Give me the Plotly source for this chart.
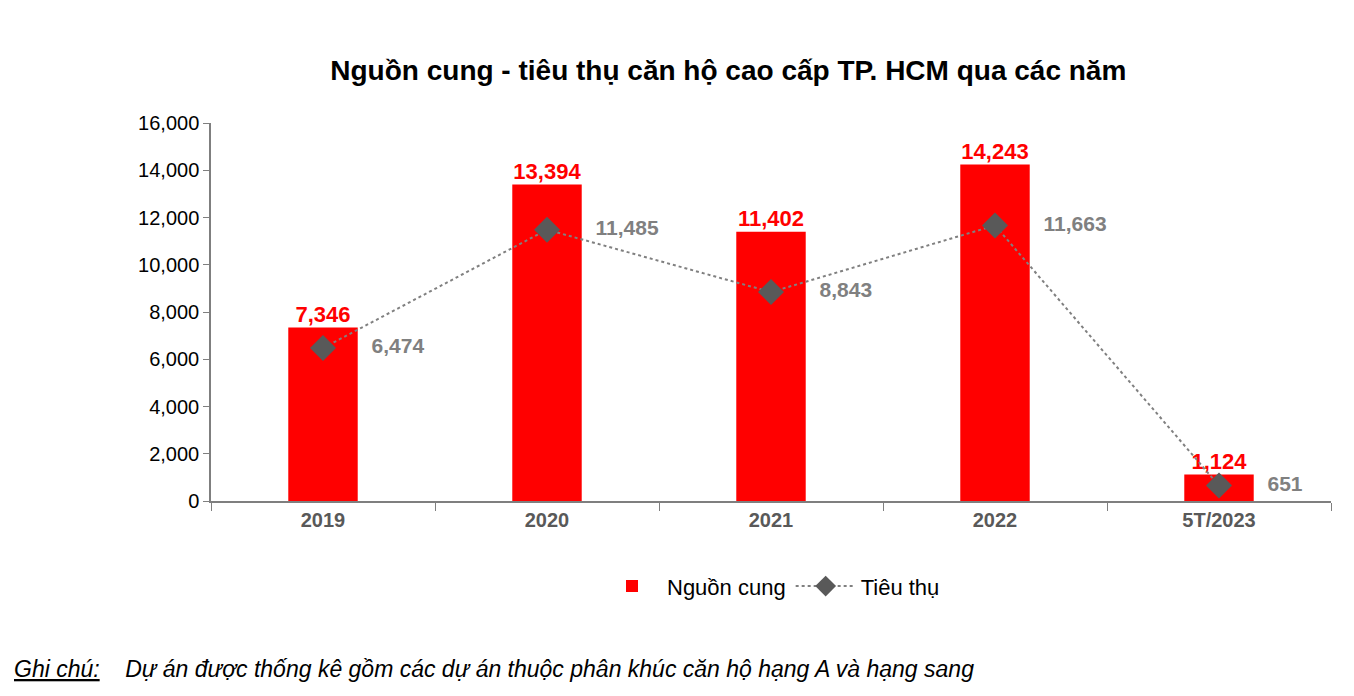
import plotly.graph_objects as go

years = ['2019', '2020', '2021', '2022', '5T/2023']
supply = [7346, 13394, 11402, 14243, 1124]
sold = [6474, 11485, 8843, 11663, 651]

def fmt(v):
    return f'{v:,}'

fig = go.Figure()

fig.add_trace(go.Bar(
    x=years, y=supply, name='Nguồn cung',
    marker=dict(color='#ff0000', line=dict(width=0)),
    width=0.31,
))

# red value labels above the bars
fig.add_trace(go.Scatter(
    x=years, y=supply, mode='text', showlegend=False,
    text=['<b>' + fmt(v) + '</b>' for v in supply], textposition='top center',
    textfont=dict(color='#ff0000', size=22), cliponaxis=False,
))

fig.add_trace(go.Scatter(
    x=years, y=sold, name='Tiêu thụ', mode='lines+markers+text',
    line=dict(color='#808080', width=2, dash='dot'),
    marker=dict(symbol='diamond', size=20, color='#595959'),
    text=['      <b>' + fmt(v) + '</b>' for v in sold], textposition='middle right',
    textfont=dict(color='#808080', size=21),
    cliponaxis=False,
))

fig.update_layout(
    width=1354, height=696,
    paper_bgcolor='white', plot_bgcolor='white',
    font=dict(family='Arial, Liberation Sans', color='#000000'),
    title=dict(text='<b>Nguồn cung - tiêu thụ căn hộ cao cấp TP. HCM qua các năm</b>',
               x=0.532, xanchor='center', y=0.91, yanchor='middle',
               font=dict(size=28, color='#000000')),
    margin=dict(l=203, r=31, t=115, b=203, autoexpand=False),
    showlegend=True,
    legend=dict(orientation='h', x=0.5, xanchor='center', y=-0.17, yanchor='top',
                font=dict(size=22), traceorder='normal', itemwidth=60),
    annotations=[dict(
        text='<i><u>Ghi chú:</u>    Dự án được thống kê gồm các dự án thuộc phân khúc căn hộ hạng A và hạng sang</i>',
        xref='paper', yref='paper', x=-0.178, xanchor='left', y=-0.445, yanchor='middle',
        showarrow=False, font=dict(size=23, color='#000000'))],
)

fig.update_xaxes(showline=True, linecolor='#7f7f7f', linewidth=1.5,
                 ticks='outside', tickson='boundaries', ticklen=8, tickcolor='#7f7f7f',
                 tickfont=dict(size=20, color='#595959'),
                 ticktext=['<b>' + y + '</b>' for y in years], tickvals=years)
fig.update_yaxes(range=[0, 16000], dtick=2000, tickformat=',', showgrid=False,
                 showline=True, linecolor='#7f7f7f', linewidth=1.5,
                 ticks='outside', ticklen=6, tickcolor='#7f7f7f', zeroline=False,
                 tickfont=dict(size=20, color='#000000'))

fig.write_html('out.html')
